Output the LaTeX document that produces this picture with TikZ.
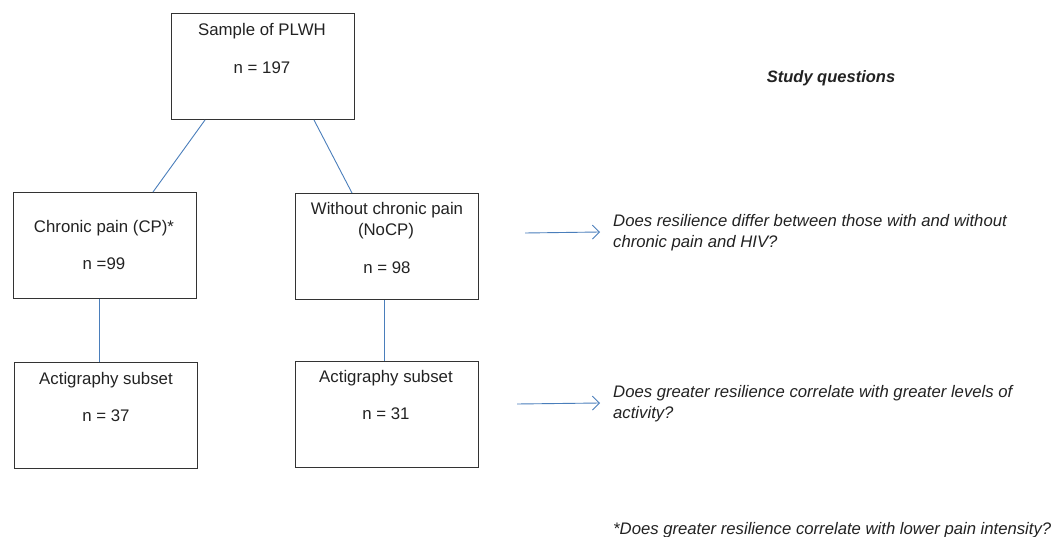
\documentclass[tikz,border=0pt]{standalone}
\usepackage{fontspec}
\setmainfont{Liberation Sans}
\usetikzlibrary{arrows.meta}
\definecolor{txt}{HTML}{222222}
\definecolor{edge}{HTML}{333333}
\definecolor{conn}{HTML}{4A7EBB}
\tikzset{
  box/.style={draw=edge, line width=1.2pt, minimum width=183pt, minimum height=106pt, inner sep=0pt, anchor=north west},
  lbl/.style={text=txt, font=\fontsize{16.8}{19}\selectfont, inner sep=0pt, anchor=base},
  q/.style={text=txt, font=\fontsize{16.7}{21}\selectfont\itshape, inner sep=0pt, anchor=base west, align=left},
  conn/.style={draw=conn, line width=0.9pt},
  qarrow/.style={conn, -{Straight Barb[length=7pt,width=14pt,line width=0.9pt]}}
}
\begin{document}
\begin{tikzpicture}[x=1pt,y=-1pt]
\useasboundingbox (0,0) rectangle (1052,537);
\node[box] (top) at (171,13) {};
\node[box] (cp) at (13,192) {};
\node[box] (nocp) at (295,193) {};
\node[box] (act1) at (14,362) {};
\node[box] (act2) at (295,361) {};

\node[lbl] (t1) at (262,36) {Sample of PLWH};
\node[lbl] (t2) at (262,74) {n = 197};
\node[lbl] (c1) at (104,233) {Chronic pain (CP)*};
\node[lbl] (c2) at (104,270) {n =99};
\node[lbl] (n1) at (387,215) {Without chronic pain};
\node[lbl] (n2) at (386,236) {(NoCP)};
\node[lbl] (n3) at (387,274) {n = 98};
\node[lbl] (a1) at (106,384) {Actigraphy subset};
\node[lbl] (a2) at (106,421) {n = 37};
\node[lbl] (b1) at (386,382) {Actigraphy subset};
\node[lbl] (b2) at (386,419) {n = 31};

\coordinate (tl) at (205,120);
\coordinate (cpt) at (153,192);
\coordinate (tr) at (314,120);
\coordinate (nct) at (352,193);
\draw[conn] (tl) -- (cpt);
\draw[conn] (tr) -- (nct);
\draw[conn] (cp.south -| 99,0) -- (act1.north -| 99,0);
\draw[conn] (nocp.south -| 384,0) -- (act2.north -| 384,0);

\node[text=txt, font=\fontsize{16.5}{19}\selectfont\bfseries\itshape, inner sep=0pt, anchor=base] (sq) at (831,83) {Study questions};
\node[q] (q1a) at (613,227) {Does resilience differ between those with and without};
\node[q] (q1b) at (613,248) {chronic pain and HIV?};
\node[q] (q2a) at (613,397) {Does greater resilience correlate with greater levels of};
\node[q] (q2b) at (613,418) {activity?};
\node[q] (q3) at (613,534) {*Does greater resilience correlate with lower pain intensity?};

\coordinate (s1) at (525,233);
\coordinate (s2) at (517,404);
\draw[qarrow] (s1) -- (600,232) coordinate (e1);
\draw[qarrow] (s2) -- (600,403) coordinate (e2);
\end{tikzpicture}
\end{document}
